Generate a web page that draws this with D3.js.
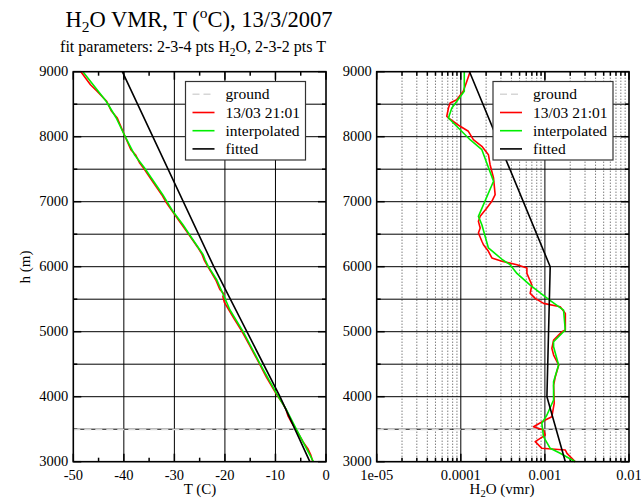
<!DOCTYPE html>
<html>
<head>
<meta charset="utf-8">
<script src="https://cdn.jsdelivr.net/npm/d3@7/dist/d3.min.js"></script>
<style>
  html, body { margin: 0; padding: 0; background: #fff; }
  svg { display: block; }
  text { font-family: "Liberation Serif", "Times New Roman", serif; fill: #000; }
</style>
</head>
<body>
<svg id="chart" width="641" height="502"></svg>
<script>
// Temperature profile, [height (m), T (°C)]
const tempSonde = [
  [9000,-48.5],[8800,-46.6],[8700,-45.3],[8545,-43.4],[8400,-42.5],[8288,-41.3],
  [8011,-39.8],[7800,-38.6],[7723,-37.7],[7600,-36.9],[7518,-36.1],[7300,-34.2],
  [7108,-32.5],[7000,-31.7],[6852,-30.4],[6700,-29.0],[6646,-28.5],[6492,-27.1],
  [6300,-25.4],[6185,-24.5],[6103,-24.1],[6006,-23.4],[5900,-22.6],[5795,-21.8],
  [5650,-21.0],[5580,-20.2],[5540,-20.4],[5450,-20.1],[5334,-19.2],[5200,-18.2],
  [5000,-16.6],[4800,-15.2],[4514,-13.2],[4300,-11.8],[4052,-9.9],[3900,-8.6],
  [3800,-7.9],[3700,-7.5],[3600,-6.8],[3488,-5.9],[3300,-4.5],[3200,-3.6],
  [3100,-3.0],[3000,-2.6]
];
const tempInterp = [
  [9000,-48.1],[8545,-43.5],[8288,-41.5],[8011,-39.8],[7723,-37.9],[7518,-35.9],
  [7108,-32.3],[6852,-30.3],[6646,-28.3],[6492,-27.0],[6185,-24.3],[6103,-23.9],
  [6006,-23.3],[5795,-21.6],[5514,-20.0],[5334,-19.0],[5000,-16.4],[4514,-13.1],
  [4052,-9.8],[3795,-7.8],[3488,-5.8],[3000,-2.5]
];
const tempFit = [[9000,-40.3],[6000,-22.2],[4000,-9.1],[3000,-3.2]];

// Water vapour profile, [height (m), VMR]
const vmrSonde = [
  [9000,1.29e-4],[8852,1.18e-4],[8698,1.07e-4],[8569,8.95e-5],[8518,7.46e-5],
  [8442,7.13e-5],[8314,6.81e-5],[8288,7.13e-5],[8160,9.82e-5],[8083,1.23e-4],
  [7954,1.41e-4],[7852,1.78e-4],[7723,2.13e-4],[7569,2.23e-4],[7365,2.45e-4],
  [7108,2.56e-4],[7006,2.34e-4],[6903,2.04e-4],[6775,1.70e-4],[6698,1.62e-4],
  [6595,1.70e-4],[6518,1.62e-4],[6391,1.78e-4],[6338,1.86e-4],[6237,2.13e-4],
  [6134,2.34e-4],[6083,3.08e-4],[6031,4.65e-4],[5980,6.11e-4],[5897,6.11e-4],
  [5718,7.0e-4],[5590,6.68e-4],[5513,7.67e-4],[5436,9.64e-4],[5385,1.52e-3],
  [5282,1.75e-3],[5026,1.75e-3],[5000,1.59e-3],[4872,1.27e-3],[4744,1.21e-3],
  [4641,1.27e-3],[4487,1.46e-3],[4308,1.33e-3],[4179,1.27e-3],[3897,1.29e-3],
  [3692,1.21e-3],[3641,1.01e-3],[3538,7.33e-4],[3487,9.64e-4],[3410,1.01e-3],
  [3308,7.67e-4],[3206,9.20e-4],[3180,1.75e-3],[3128,1.83e-3],[3000,2.30e-3]
];
const vmrInterp = [
  [9000,1.10e-4],[8700,1.10e-4],[8442,7.82e-5],[8288,7.13e-5],[7954,1.29e-4],
  [7800,1.78e-4],[7314,2.45e-4],[6775,1.62e-4],[6646,1.78e-4],[6288,2.13e-4],
  [6103,3.16e-4],[6031,3.86e-4],[5897,4.65e-4],[5718,6.68e-4],[5497,1.107e-3],
  [5333,1.667e-3],[5026,1.746e-3],[4846,1.268e-3],[4769,1.268e-3],[4487,1.455e-3],
  [4231,1.268e-3],[3949,1.268e-3],[3718,1.057e-3],[3591,9.20e-4],[3385,9.62e-4],
  [3206,1.156e-3],[3129,1.52e-3],[3000,2.30e-3]
];
const vmrFit = [[9000,1.27e-4],[6000,1.156e-3],[4000,1.057e-3],[3000,1.75e-3]];

const groundHeight = 3497;

const heightTicks = [3000,4000,5000,6000,7000,8000,9000];
const tempTicks = [-50,-40,-30,-20,-10,0];
const vmrTicks = [1e-5,1e-4,1e-3,1e-2];
const vmrTickLabels = ["1e-05","0.0001","0.001","0.01"];

const legendLabels = ["ground","13/03 21:01","interpolated","fitted"];
const seriesColors = ["#d6d6d6","#ff0000","#00ee00","#000000"];

const svg = d3.select("#chart");
svg.append("rect").attr("width",641).attr("height",502).attr("fill","#fff");

const plotTop = 71.7, plotBottom = 461.7;
const y = d3.scaleLinear().domain([3000,9000]).range([plotBottom, plotTop]);
const xT = d3.scaleLinear().domain([-50,0]).range([73.3, 326]);
const xV = d3.scaleLog().domain([1e-5,1e-2]).range([376.7, 629]);

function drawPanel(x, opts) {
  const g = svg.append("g");
  const [x0, x1] = x.range();

  // vertical grid
  if (opts.log) {
    g.selectAll(null).data(opts.xMinor).enter().append("line")
      .attr("x1", d => x(d)).attr("x2", d => x(d))
      .attr("y1", plotTop).attr("y2", plotBottom)
      .attr("stroke", "#444").attr("stroke-width", 1)
      .attr("stroke-dasharray", "1,2");
  }
  g.selectAll(null).data(opts.xTicks.slice(1, -1)).enter().append("line")
    .attr("x1", d => x(d)).attr("x2", d => x(d))
    .attr("y1", plotTop).attr("y2", plotBottom)
    .attr("stroke", "#000").attr("stroke-width", 1);

  // horizontal grid every 500 m
  const hGrid = d3.range(3500, 9000, 500);
  g.selectAll(null).data(hGrid).enter().append("line")
    .attr("x1", x0).attr("x2", x1)
    .attr("y1", d => y(d)).attr("y2", d => y(d))
    .attr("stroke", "#000").attr("stroke-width", 1);

  // ticks along the frame
  const hMinor = d3.range(3500, 9000, 1000);
  const tickY = (vals, len) => {
    vals.forEach(v => {
      g.append("line").attr("x1", x0).attr("x2", x0 + len).attr("y1", y(v)).attr("y2", y(v)).attr("stroke", "#000").attr("stroke-width", 1.5);
      g.append("line").attr("x1", x1).attr("x2", x1 - len).attr("y1", y(v)).attr("y2", y(v)).attr("stroke", "#000").attr("stroke-width", 1.5);
    });
  };
  tickY(heightTicks, 8); tickY(hMinor, 4);
  const tickX = (vals, len) => {
    vals.forEach(v => {
      g.append("line").attr("x1", x(v)).attr("x2", x(v)).attr("y1", plotBottom).attr("y2", plotBottom - len).attr("stroke", "#000").attr("stroke-width", 1.5);
      g.append("line").attr("x1", x(v)).attr("x2", x(v)).attr("y1", plotTop).attr("y2", plotTop + len).attr("stroke", "#000").attr("stroke-width", 1.5);
    });
  };
  tickX(opts.xTicks, 8); tickX(opts.xMinor, 4);

  // ground level
  g.append("line").attr("x1", x0).attr("x2", x1)
    .attr("y1", y(groundHeight)).attr("y2", y(groundHeight))
    .attr("stroke", seriesColors[0]).attr("stroke-width", 1.5)
    .attr("stroke-dasharray", "7,4");

  // data lines
  const line = d3.line().x(d => x(d[1])).y(d => y(d[0]));
  [[opts.sonde, seriesColors[1]], [opts.interp, seriesColors[2]], [opts.fit, seriesColors[3]]]
    .forEach(([data, col]) => {
      g.append("path").datum(data).attr("d", line)
        .attr("fill", "none").attr("stroke", col).attr("stroke-width", 1.6)
        .attr("stroke-linejoin", "round");
    });

  // legend
  const lg = g.append("g").attr("transform", `translate(${opts.legendX},81.5)`);
  lg.append("rect").attr("width", 120).attr("height", 78.5)
    .attr("fill", "#fff").attr("stroke", "#333").attr("stroke-width", 1.2);
  legendLabels.forEach((lab, i) => {
    const yy = 12.8 + i * 18.2;
    lg.append("line").attr("x1", 7).attr("x2", 29).attr("y1", yy).attr("y2", yy)
      .attr("stroke", seriesColors[i]).attr("stroke-width", 1.6)
      .attr("stroke-dasharray", i === 0 ? "7,4" : null);
    lg.append("text").attr("x", 40).attr("y", yy + 5).attr("font-size", 15.5).text(lab);
  });

  // frame
  g.append("rect").attr("x", x0).attr("y", plotTop).attr("width", x1 - x0).attr("height", plotBottom - plotTop)
    .attr("fill", "none").attr("stroke", "#000").attr("stroke-width", 1.6);

  // tick labels
  g.selectAll(null).data(heightTicks).enter().append("text")
    .attr("x", x0 - 5).attr("y", d => y(d) + 4.5)
    .attr("text-anchor", "end").attr("font-size", 14.5).text(d => d);
  g.selectAll(null).data(opts.xTicks).enter().append("text")
    .attr("x", d => x(d)).attr("y", 479.5)
    .attr("text-anchor", "middle").attr("font-size", 14.5)
    .text((d, i) => opts.xLabels[i]);
}

drawPanel(xT, {
  log: false, xTicks: tempTicks, xMinor: [-45,-35,-25,-15,-5],
  xLabels: tempTicks.map(String),
  sonde: tempSonde, interp: tempInterp, fit: tempFit, legendX: 185.5
});
const vmrMinor = [];
for (let e = -5; e < -2; e++) for (let m = 2; m <= 9; m++) vmrMinor.push(m * Math.pow(10, e));
drawPanel(xV, {
  log: true, xTicks: vmrTicks, xMinor: vmrMinor,
  xLabels: vmrTickLabels,
  sonde: vmrSonde, interp: vmrInterp, fit: vmrFit, legendX: 493
});

// axis titles
svg.append("text").attr("x", 200).attr("y", 494).attr("text-anchor", "middle")
  .attr("font-size", 15).text("T (C)");
const xv = svg.append("text").attr("x", 502).attr("y", 494).attr("text-anchor", "middle").attr("font-size", 15);
xv.append("tspan").text("H");
xv.append("tspan").attr("font-size", 10.5).attr("dy", 3).text("2");
xv.append("tspan").attr("dy", -3).text("O (vmr)");
svg.append("text").attr("transform", "translate(30,267) rotate(-90)")
  .attr("text-anchor", "middle").attr("font-size", 15).text("h (m)");

// titles
const t = svg.append("text").attr("x", 199).attr("y", 27).attr("text-anchor", "middle").attr("font-size", 22.5);
t.append("tspan").text("H");
t.append("tspan").attr("font-size", 15.5).attr("dy", 4.5).text("2");
t.append("tspan").attr("dy", -4.5).text("O VMR, T (");
t.append("tspan").attr("font-size", 15.5).attr("dy", -9).text("o");
t.append("tspan").attr("dy", 9).text("C), 13/3/2007");

const s = svg.append("text").attr("x", 193).attr("y", 52).attr("text-anchor", "middle").attr("font-size", 16);
s.append("tspan").text("fit parameters: 2-3-4 pts H");
s.append("tspan").attr("font-size", 11.5).attr("dy", 3.5).text("2");
s.append("tspan").attr("dy", -3.5).text("O, 2-3-2 pts T");
</script>
</body>
</html>
